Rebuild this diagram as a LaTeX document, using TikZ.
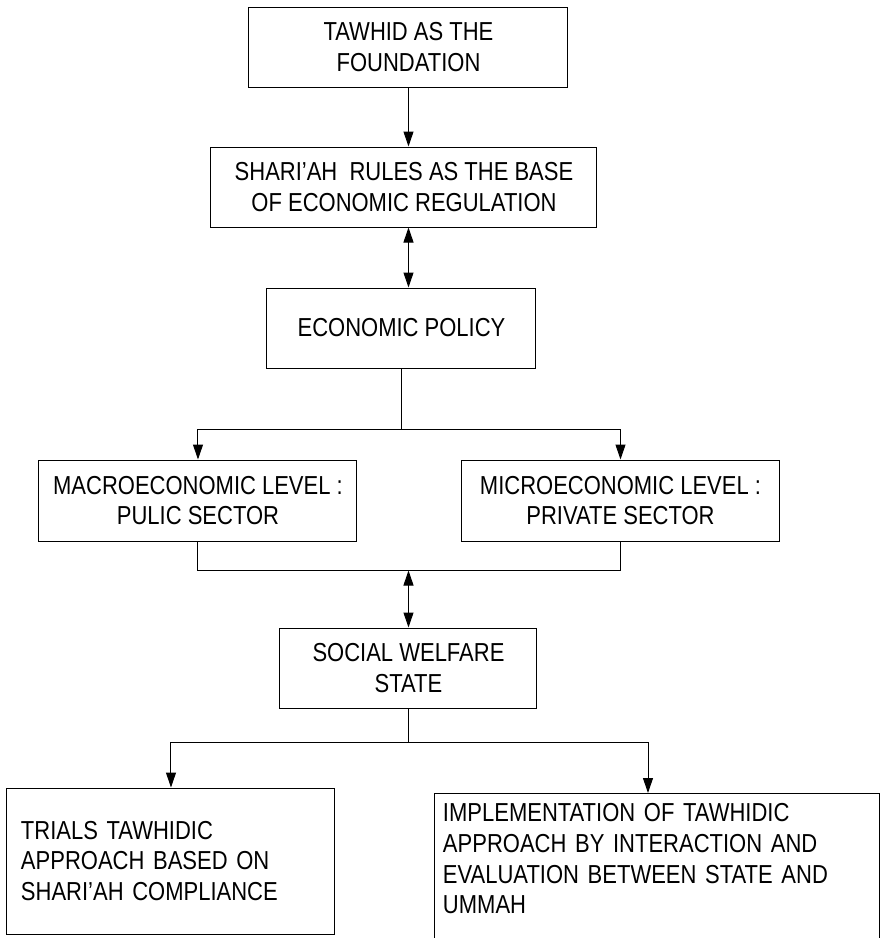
\documentclass[tikz,border=0pt]{standalone}
\usepackage{fontspec}
\setmainfont{Liberation Sans}[FakeStretch=0.846]
\usetikzlibrary{positioning}
\usetikzlibrary{arrows.meta}

\begin{document}
\begin{tikzpicture}[on grid,>={Triangle[length=7.5pt,width=5pt]},line width=0.5pt,
		block/.style={rectangle,draw=black,align=center,inner sep=2pt,minimum height=40pt,font=\fontsize{13pt}{15.35pt}\selectfont},
		leftblock/.style={block,align=left,inner ysep=2pt}]
		\clip (-204.25pt,-445.5pt) rectangle (235.75pt,23.5pt);
		\node[block,minimum width=159.5pt]  (tawhid)                                      {TAWHID AS THE\\FOUNDATION};
		\node[block,minimum width=193pt]    (rules)     [below=70pt of tawhid,xshift=-2.25pt]   {SHARI’AH~ RULES AS THE BASE\\OF ECONOMIC REGULATION};
		\node[block,minimum width=134.5pt]  (economic)  [below=70.5pt of rules,xshift=-1.25pt]  {ECONOMIC POLICY};
		\node[block,minimum width=159pt,minimum height=40.5pt]    (macro)  [below left=86.25pt and 101.75pt of economic]  {MACROECONOMIC LEVEL :\\PULIC SECTOR};
		\node[block,minimum width=158.5pt,minimum height=40.5pt]  (micro)  [right=211.25pt of macro]                      {MICROECONOMIC LEVEL :\\PRIVATE SECTOR};
		\node[block,minimum width=128.5pt]  (welfare)   [below right=83.75pt and 105.25pt of macro]  {SOCIAL WELFARE\\STATE};
		\node[leftblock,text width=150pt,inner xsep=7pt,minimum height=73pt]  (trials)     [below left=96.5pt and 118.75pt of welfare]  {TRIALS TAWHIDIC\\APPROACH BASED ON\\SHARI’AH COMPLIANCE};
		\node[leftblock,text width=214pt,inner xsep=4pt,inner ysep=5pt,minimum height=0pt]  (implement)  [below right=62.5pt and 124.25pt of welfare,anchor=north]  {IMPLEMENTATION OF TAWHIDIC\\APPROACH BY INTERACTION AND\\EVALUATION BETWEEN STATE AND\\UMMAH\\[10pt]\mbox{}};
		
		\coordinate[below=30.5pt of economic.south] (split);
		\coordinate[below=14.5pt of macro.south]    (merge);
		\coordinate[below=17pt of welfare.south]    (fork);
		
		\draw[->] (tawhid.south) -- (tawhid.south |- rules.north);
		\draw[<->] (tawhid.south |- rules.south) -- (tawhid.south |- economic.north);
		\draw (economic.south) -- (split);
		\draw[->] (split) -| (macro);
		\draw[->] (split) -| (micro);
		\draw (macro.south) -- (merge) -| (micro.south);
		\draw[<->] (merge -| welfare.north) -- (welfare.north);
		\draw (welfare.south) -- (fork);
		\draw[->] (fork) -| (trials);
		\draw[->] (fork) -| ([xshift=-4.5pt]implement.north);
\end{tikzpicture}
\end{document}
